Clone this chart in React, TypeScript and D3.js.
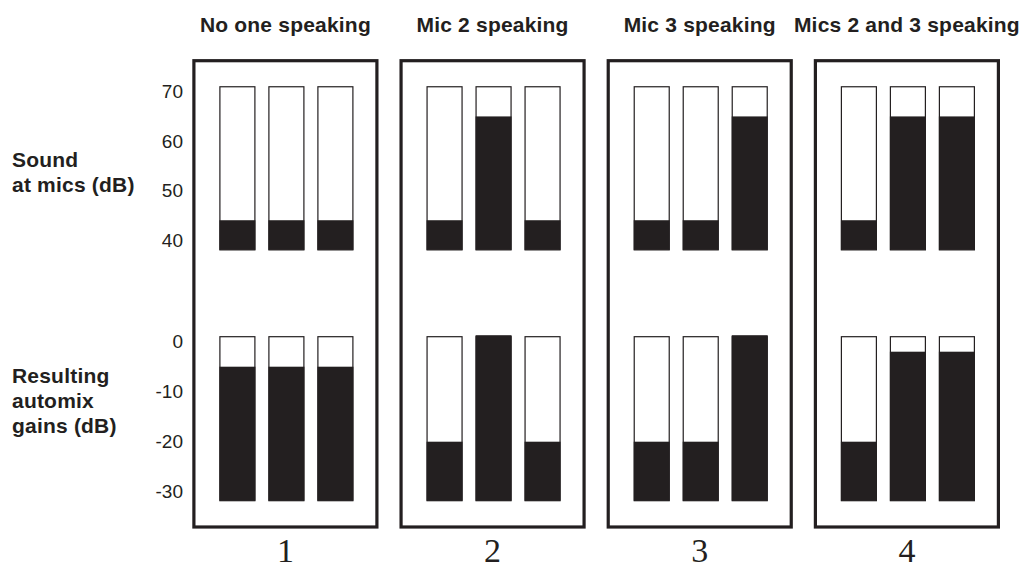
import React from 'react';
import * as d3 from 'd3';

// scenario titles and the numbers under each box
const scenarios = ['No one speaking', 'Mic 2 speaking', 'Mic 3 speaking', 'Mics 2 and 3 speaking'];
const panelLabels = ['1', '2', '3', '4'];
const mics = ['Mic 1', 'Mic 2', 'Mic 3'];

// sound at mics (dB), one row per scenario
const soundLevels = [
  [44, 44, 44],
  [44, 65, 44],
  [44, 44, 65],
  [44, 65, 65],
];
// resulting automix gains (dB)
const gainLevels = [
  [-5, -5, -5],
  [-20, 1.3, -20],
  [-20, -20, 1.3],
  [-20, -2, -2],
];

const soundTicks = [70, 60, 50, 40];
const gainTicks = [0, -10, -20, -30];
const soundMeter = [38, 71];
const gainMeter = [-31.8, 1];

const dark = '#231f20';
const sans = 'Liberation Sans, Arial, Helvetica, sans-serif';

export default function App() {
  const width = 1035, height = 570;

  const px = d3.scaleBand<string>().domain(panelLabels).range([193.9, 998.4]).paddingInner(0.1166);
  const bx = d3.scaleBand<string>().domain(mics).range([26, 159]).paddingInner(14 / 49);

  const ySound = d3.scaleLinear().domain([40, 70]).range([240, 91.7]);
  const yGain = d3.scaleLinear().domain([-30, 0]).range([491.7, 341.7]);

  const panelTop = 60.7, panelBottom = 527;

  const meters = (levels: number[][], y: d3.ScaleLinear<number, number>, meter: number[]) =>
    panelLabels.map((p, i) => (
      <g key={p} transform={`translate(${px(p)},0)`}>
        {mics.map((m, j) => (
          <g key={m}>
            <rect x={bx(m)} y={y(meter[1])} width={bx.bandwidth()} height={y(meter[0]) - y(meter[1])}
              fill="#fff" stroke={dark} strokeWidth={1.2} />
            <rect x={bx(m)! - 0.5} y={y(levels[i][j])} width={bx.bandwidth() + 1}
              height={y(meter[0]) - y(levels[i][j])} fill={dark} />
          </g>
        ))}
      </g>
    ));

  return (
    <svg width={width} height={height} style={{ position: 'absolute', left: 0, top: 0, background: '#fff' }}>
      {/* titles */}
      {scenarios.map((s, i) => (
        <text key={s} x={px(panelLabels[i])! + px.bandwidth() / 2} y={32} textAnchor="middle"
          fontFamily={sans} fontWeight="bold" fontSize={21} letterSpacing={0.2} fill={dark}>{s}</text>
      ))}

      {/* panel boxes */}
      {panelLabels.map(p => (
        <g key={p}>
          <rect x={px(p)} y={panelTop} width={px.bandwidth()} height={panelBottom - panelTop}
            fill="none" stroke={dark} strokeWidth={3.2} />
          <text x={px(p)! + px.bandwidth() / 2} y={562} textAnchor="middle"
            fontFamily="Liberation Serif, Times New Roman, serif" fontSize={34} fill={dark}>{p}</text>
        </g>
      ))}

      {meters(soundLevels, ySound, soundMeter)}
      {meters(gainLevels, yGain, gainMeter)}

      {/* tick labels */}
      {soundTicks.map(t => (
        <text key={t} x={183} y={ySound(t)} dy="0.35em" textAnchor="end" fontFamily={sans} fontSize={19} fill={dark}>{t}</text>
      ))}
      {gainTicks.map(t => (
        <text key={t} x={183} y={yGain(t)} dy="0.35em" textAnchor="end" fontFamily={sans} fontSize={19} fill={dark}>{t}</text>
      ))}

      {/* row labels */}
      <text fontFamily={sans} fontWeight="bold" fontSize={21} letterSpacing={0.2} fill={dark}>
        <tspan x={12} y={167}>Sound</tspan>
        <tspan x={12} y={192}>at mics (dB)</tspan>
      </text>
      <text fontFamily={sans} fontWeight="bold" fontSize={21} letterSpacing={0.2} fill={dark}>
        <tspan x={12} y={383}>Resulting</tspan>
        <tspan x={12} y={408}>automix</tspan>
        <tspan x={12} y={433}>gains (dB)</tspan>
      </text>
    </svg>
  );
}
